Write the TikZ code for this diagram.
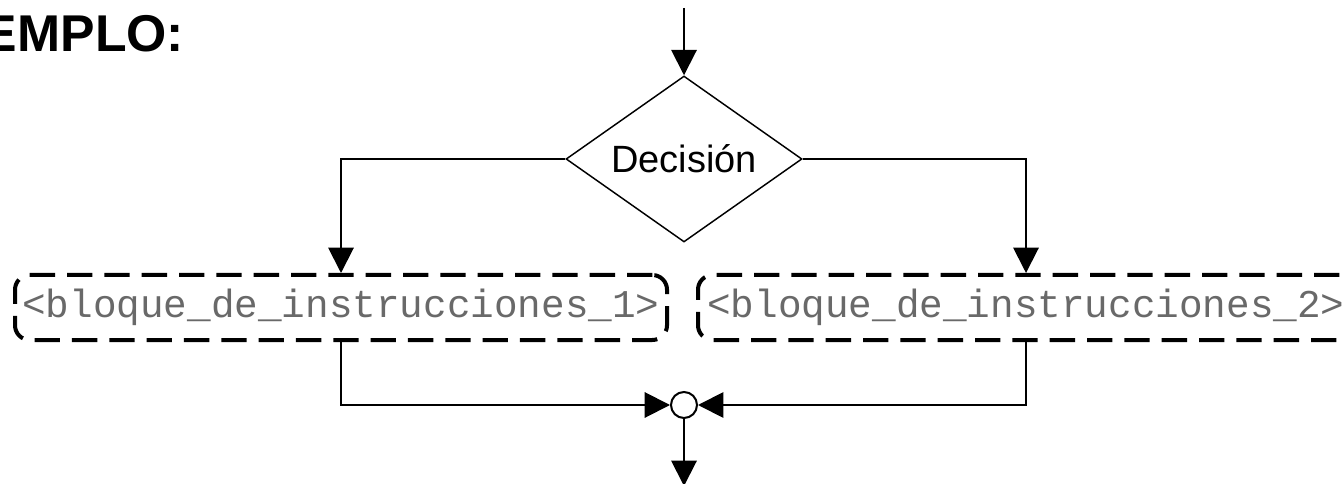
\documentclass[tikz,border=0pt]{standalone}
\usepackage{fontspec}
\setmainfont{Liberation Sans}
\newfontfamily\codefont{Liberation Mono}
\usetikzlibrary{shapes.geometric,arrows.meta}
\definecolor{codegray}{RGB}{105,105,105}
\begin{document}
\begin{tikzpicture}[x=0.75pt,y=-0.75pt,line width=1.5pt,>={Triangle[length=19pt,width=19pt]},
	decision/.style={draw,diamond,line width=1.1pt,inner sep=0pt,aspect=1.42,minimum width=177pt,minimum height=124.5pt,font=\fontsize{28.5}{30}\selectfont},
	block/.style={draw,dash pattern=on 19pt off 9pt,line width=3pt,rounded corners=11pt,minimum width=489pt,minimum height=48.75pt,inner sep=0pt,text=codegray,font=\codefont\fontsize{29.5}{31}\selectfont},
	joint/.style={draw,circle,fill=white,minimum size=19.5pt,inner sep=0pt}]
	\clip (0,0) rectangle (1344,484);
	\node[anchor=base west,inner sep=0pt,font=\bfseries\fontsize{38.8}{40}\selectfont] (title) at (-18,52) {EMPLO:};
	\node[decision] (dec) at (684,159) {Decisión};
	\node[block] (b1) at (341,307.5) {<bloque\_de\_instrucciones\_1>};
	\node[block,minimum width=492pt] (b2) at (1026,307.5) {<bloque\_de\_instrucciones\_2>};
	\node[joint] (join) at (684,405) {};
	\coordinate (in) at (684,8);
	\coordinate (out) at (684,486);
	\draw[->] (in)--(dec.north);
	\draw[->] (dec.west)-|(b1.north);
	\draw[->] (dec.east)-|(b2.north);
	\draw[->] (b1.south)|-(join.west);
	\draw[->] (b2.south)|-(join.east);
	\draw[->] (join.south)--(out);
\end{tikzpicture}
\end{document}
